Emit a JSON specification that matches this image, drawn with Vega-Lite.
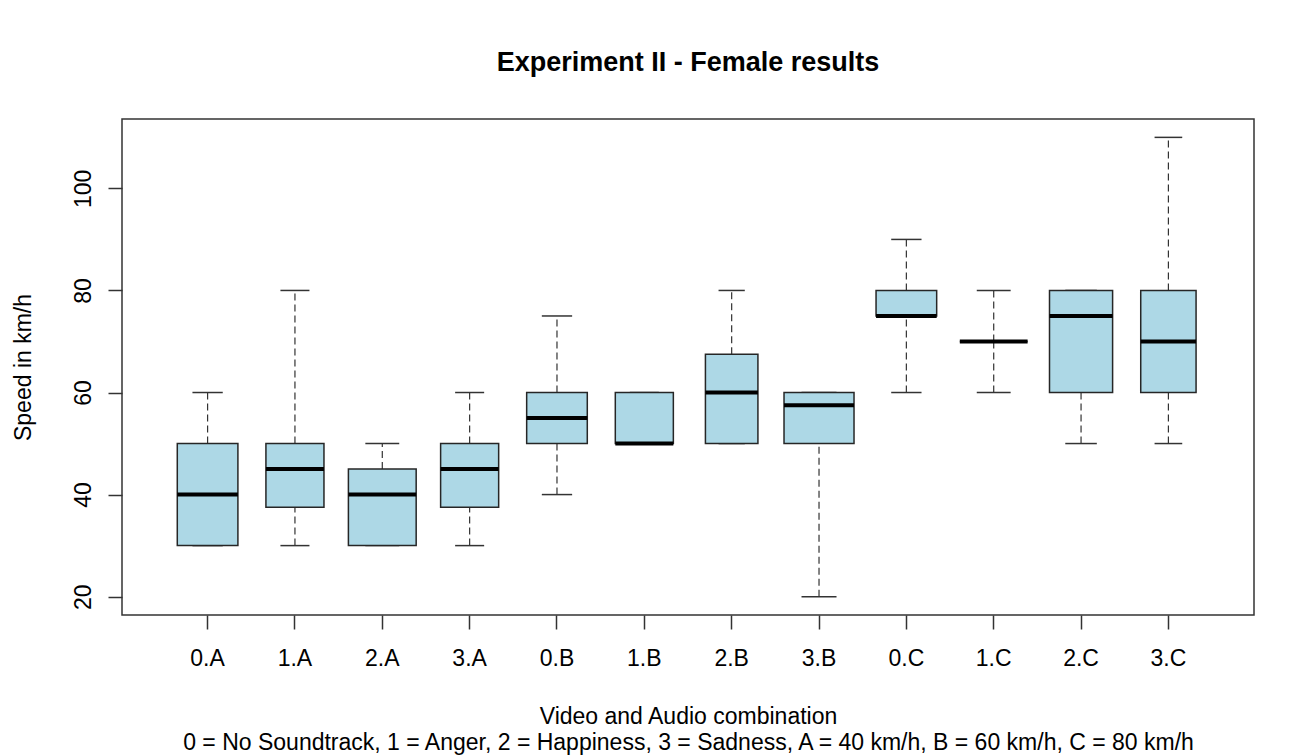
{
  "$schema": "https://vega.github.io/schema/vega-lite/v6.json",
  "width": 1132,
  "height": 496,
  "autosize": {"type": "none"},
  "padding": {"left": 122, "top": 119, "right": 60, "bottom": 141},
  "background": "white",
  "title": {
    "text": "Experiment II - Female results",
    "font": "Liberation Sans",
    "fontSize": 27,
    "fontWeight": "bold",
    "color": "black",
    "anchor": "middle",
    "frame": "group",
    "baseline": "alphabetic",
    "offset": 21
  },
  "data": {
    "values": [
      {"cat": "0.A", "min": 30, "q1": 30, "median": 40, "q3": 50, "max": 60, "n": 12},
      {"cat": "1.A", "min": 30, "q1": 37.5, "median": 45, "q3": 50, "max": 80, "n": 11},
      {"cat": "2.A", "min": 30, "q1": 30, "median": 40, "q3": 45, "max": 50, "n": 15},
      {"cat": "3.A", "min": 30, "q1": 37.5, "median": 45, "q3": 50, "max": 60, "n": 11},
      {"cat": "0.B", "min": 40, "q1": 50, "median": 55, "q3": 60, "max": 75, "n": 12},
      {"cat": "1.B", "min": 50, "q1": 50, "median": 50, "q3": 60, "max": 60, "n": 11},
      {"cat": "2.B", "min": 50, "q1": 50, "median": 60, "q3": 67.5, "max": 80, "n": 9},
      {"cat": "3.B", "min": 20, "q1": 50, "median": 57.5, "q3": 60, "max": 60, "n": 16},
      {"cat": "0.C", "min": 60, "q1": 75, "median": 75, "q3": 80, "max": 90, "n": 12},
      {"cat": "1.C", "min": 60, "q1": 70, "median": 70, "q3": 70, "max": 80, "n": 15},
      {"cat": "2.C", "min": 50, "q1": 60, "median": 75, "q3": 80, "max": 80, "n": 13},
      {"cat": "3.C", "min": 50, "q1": 60, "median": 70, "q3": 80, "max": 110, "n": 10}
    ]
  },
  "encoding": {
    "x": {
      "field": "cat",
      "type": "nominal",
      "sort": null,
      "scale": {"paddingInner": 0, "paddingOuter": 0.48},
      "axis": {
        "labelAngle": 0,
        "labelBaseline": "alphabetic",
        "labelPadding": 36,
        "title": ["Video and Audio combination", "0 = No Soundtrack, 1 = Anger, 2 = Happiness, 3 = Sadness, A = 40 km/h, B = 60 km/h, C = 80 km/h"],
        "titleBaseline": "alphabetic",
        "titleY": 108,
        "titleLineHeight": 26
      }
    }
  },
  "layer": [
    {
      "mark": {"type": "rule", "stroke": "#333", "strokeWidth": 1.2, "strokeDash": [7, 4]},
      "encoding": {
        "y": {
          "field": "q3",
          "type": "quantitative",
          "scale": {"domain": [16.4, 113.6], "nice": false, "zero": false},
          "axis": {
            "values": [20, 40, 60, 80, 100],
            "labelAngle": 270,
            "labelAlign": "center",
            "labelBaseline": "alphabetic",
            "labelPadding": 18,
            "title": "Speed in km/h",
            "titleAngle": 270,
            "titleBaseline": "alphabetic",
            "titleAlign": "center",
            "titleX": -92,
            "titleY": 248
          }
        },
        "y2": {"field": "max"}
      }
    },
    {
      "mark": {"type": "rule", "stroke": "#333", "strokeWidth": 1.2, "strokeDash": [7, 4]},
      "encoding": {
        "y": {"field": "min", "type": "quantitative"},
        "y2": {"field": "q1"}
      }
    },
    {
      "mark": {"type": "tick", "orient": "horizontal", "color": "#333", "thickness": 1.5, "opacity": 1},
      "encoding": {
        "y": {"field": "max", "type": "quantitative"},
        "size": {"field": "n", "type": "quantitative", "scale": {"type": "sqrt", "domain": [0, 16], "range": [0, 35]}, "legend": null}
      }
    },
    {
      "mark": {"type": "tick", "orient": "horizontal", "color": "#333", "thickness": 1.5, "opacity": 1},
      "encoding": {
        "y": {"field": "min", "type": "quantitative"},
        "size": {"field": "n", "type": "quantitative", "scale": {"type": "sqrt", "domain": [0, 16], "range": [0, 35]}, "legend": null}
      }
    },
    {
      "mark": {"type": "bar", "fill": "#ADD8E6", "stroke": "#262626", "strokeWidth": 1.5},
      "encoding": {
        "y": {"field": "q1", "type": "quantitative"},
        "y2": {"field": "q3"},
        "size": {"field": "n", "type": "quantitative", "scale": {"type": "sqrt", "domain": [0, 16], "range": [0, 70]}, "legend": null}
      }
    },
    {
      "mark": {"type": "tick", "orient": "horizontal", "color": "black", "thickness": 4, "opacity": 1},
      "encoding": {
        "y": {"field": "median", "type": "quantitative"},
        "size": {"field": "n", "type": "quantitative", "scale": {"type": "sqrt", "domain": [0, 16], "range": [0, 70]}, "legend": null}
      }
    }
  ],
  "resolve": {"scale": {"size": "independent"}},
  "config": {
    "font": "Liberation Sans",
    "view": {"stroke": "#333", "strokeWidth": 1.5, "fill": "white"},
    "axis": {
      "grid": false,
      "domain": false,
      "labelFont": "Liberation Sans",
      "titleFont": "Liberation Sans",
      "labelFontSize": 23,
      "titleFontSize": 23,
      "titleFontWeight": "normal",
      "labelColor": "black",
      "titleColor": "black",
      "tickColor": "#333",
      "tickWidth": 1.5,
      "tickSize": 14,
      "labelOverlap": false,
      "labelLimit": 0,
      "titleLimit": 0
    }
  }
}
